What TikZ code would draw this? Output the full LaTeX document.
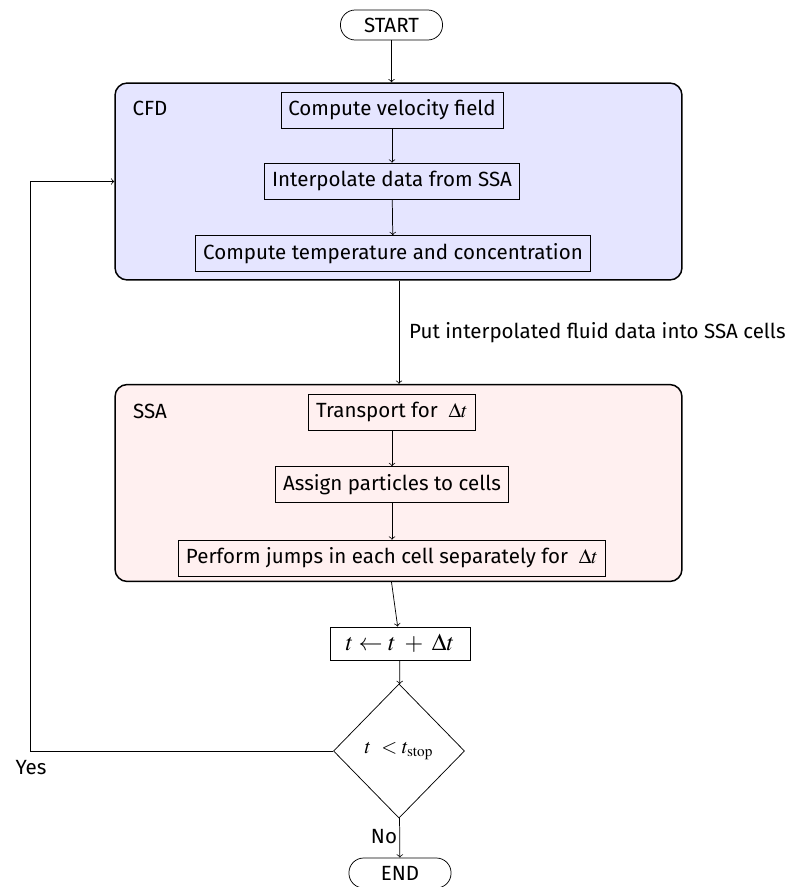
\documentclass[tikz,border=0pt]{standalone}
\usepackage{mathptmx}
\usepackage[no-math]{fontspec}
\setmainfont{Fira Sans}
\usetikzlibrary{shapes.geometric}
\begin{document}
\begin{tikzpicture}
  [x=0.019cm,y=-0.019cm,
   every node/.style={font=\fontsize{11.1}{13}\selectfont},
   block/.style={rectangle,draw=black,thin,align=center,
                 inner xsep=4pt,minimum height=0.68cm},
   terminal/.style={rectangle,rounded corners=0.28cm,draw=black,thin,
                 minimum width=1.94cm,minimum height=0.57cm},
   stage/.style={rectangle,rounded corners=0.23cm,draw=black,thick,
                 minimum width=10.77cm,minimum height=3.74cm},
   decision/.style={diamond,draw=black,thin,inner sep=0,
                 minimum width=2.49cm,minimum height=2.55cm},
   flow/.style={thin,->}]
  \useasboundingbox (0,0) rectangle (796,887);
  \node[terminal] (start) at (391.5,25) {START};
  \node[stage,fill=blue!10] (cfd) at (398.5,181.5) {};
  \node[stage,fill=red!6] (ssa) at (398.5,483) {};
  \node (cfdt) at (150,108) {CFD};
  \node (ssat) at (150,411) {SSA};
  \node[block] (vel) at (392,110) {Compute velocity field};
  \node[block] (interp) at (392,181) {Interpolate data from SSA};
  \node[block] (temp) at (393,253.5) {Compute temperature and concentration};
  \node[block] (trans) at (392,412) {Transport for \ $\Delta t$};
  \node[block] (assign) at (392,484.5) {Assign particles to cells};
  \node[block] (jumps) at (392,558) {Perform jumps in each cell separately for \ $\Delta t$};
  \node[block,minimum height=0.63cm,minimum width=2.66cm,
        font=\fontsize{13}{15}\selectfont] (step) at (400,643.5) {$t\leftarrow t\;+\;\Delta t$};
  \node[decision] (check) at (399,751) {$t\ <t_{\mathrm{stop}}$};
  \node[terminal] (end) at (400,873) {END};
  \node (yes) at (31,768) {Yes};
  \node (no) at (384,837) {No};
  \coordinate (loop) at (30,181.5);
  \draw[flow] (start) -- (start |- cfd.north);
  \draw[flow] (vel) -- (interp);
  \draw[flow] (interp) -- (temp);
  \draw[flow] (cfd.south -| check) -- node[right,xshift=2pt] {Put interpolated fluid data into SSA cells} (ssa.north -| check);
  \draw[flow] (trans) -- (assign);
  \draw[flow] (assign) -- (jumps);
  \draw[flow] (ssa.south -| start) -- (step);
  \draw[flow] (step) -- (check);
  \draw[flow] (check) -- (end);
  \draw (check.west) -| (loop);
  \draw[flow] (loop) -- (cfd.west);
\end{tikzpicture}
\end{document}
